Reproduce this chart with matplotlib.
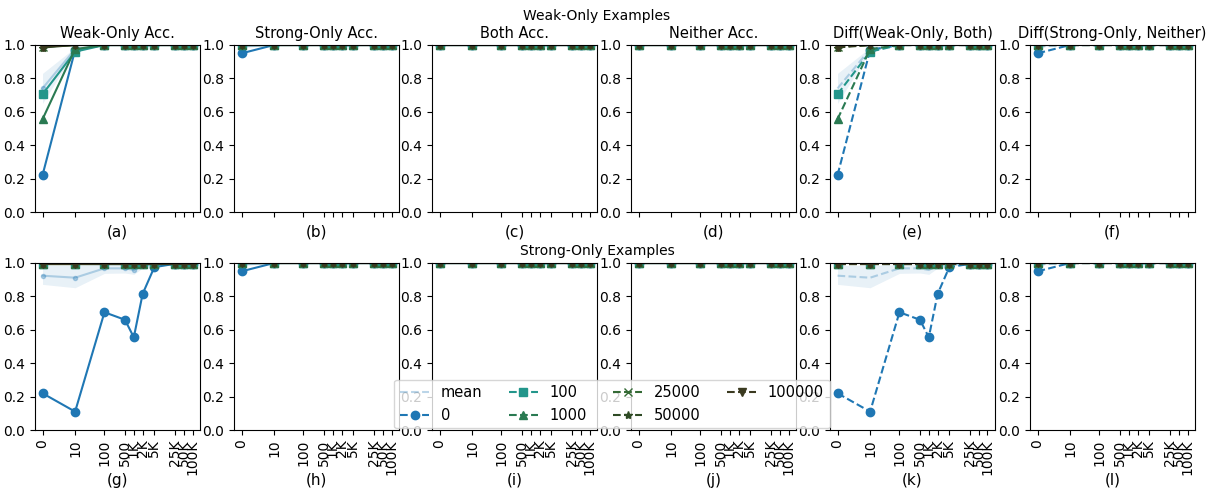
import numpy as np
import matplotlib
matplotlib.use("Agg")
import matplotlib.pyplot as plt

# x positions (number of examples) and tick labels
sizes = [0, 10, 100, 500, 1000, 2000, 5000, 25000, 50000, 100000]
size_labels = ["0", "10", "100", "500", "1K", "2K", "5K", "25K", "50K", "100K"]

series_names = ["0", "100", "1000", "25000", "50000", "100000"]
series_colors = ["#1f77b4", "#23968b", "#2a7a52", "#346a35", "#2e4a24", "#3b3a20"]
series_markers = ["o", "s", "^", "x", "*", "v"]

ones = [1.0] * 10

# weak-only examples, weak-only acc (also diff(weak-only, both))
weak_only_0 = [0.22, 0.97, 1.0, 1.0, 1.0, 1.0, 1.0, 1.0, 1.0, 1.0]
weak_only_100 = [0.705, 0.96, 1.0, 1.0, 1.0, 1.0, 1.0, 1.0, 1.0, 1.0]
weak_only_1000 = [0.555, 0.975, 1.0, 1.0, 1.0, 1.0, 1.0, 1.0, 1.0, 1.0]
weak_only_25000 = [0.99, 1.0, 1.0, 1.0, 1.0, 1.0, 1.0, 1.0, 1.0, 1.0]
weak_only_50000 = [0.985, 1.0, 1.0, 1.0, 1.0, 1.0, 1.0, 1.0, 1.0, 1.0]
weak_only_100000 = [0.99, 1.0, 1.0, 1.0, 1.0, 1.0, 1.0, 1.0, 1.0, 1.0]
weak_only_mean = [0.74, 0.975, 1.0, 1.0, 1.0, 1.0, 1.0, 1.0, 1.0, 1.0]
weak_only_lo = [0.65, 0.965, 1.0, 1.0, 1.0, 1.0, 1.0, 1.0, 1.0, 1.0]
weak_only_hi = [0.83, 0.985, 1.0, 1.0, 1.0, 1.0, 1.0, 1.0, 1.0, 1.0]

# weak-only examples, strong-only acc (also diff(strong-only, neither))
strong_acc_0 = [0.95, 1.0, 1.0, 1.0, 1.0, 1.0, 1.0, 1.0, 1.0, 1.0]
strong_acc_mean = [0.99, 1.0, 1.0, 1.0, 1.0, 1.0, 1.0, 1.0, 1.0, 1.0]

# strong-only examples, weak-only acc (also diff(weak-only, both))
so_weak_0 = [0.22, 0.11, 0.705, 0.66, 0.555, 0.815, 0.975, 0.995, 0.995, 0.995]
so_weak_other = [0.995] * 10
so_weak_mean = [0.924, 0.912, 0.968, 0.968, 0.958, 0.985, 0.99, 0.995, 0.995, 0.995]
so_weak_lo = [0.872, 0.852, 0.938, 0.94, 0.932, 0.97, 0.985, 0.99, 0.99, 0.99]
so_weak_hi = [0.985, 0.985, 0.99, 0.99, 0.985, 0.995, 0.998, 1.0, 1.0, 1.0]

# strong-only examples, strong-only acc
so_strong_0 = [0.95, 1.0, 1.0, 1.0, 1.0, 1.0, 1.0, 1.0, 1.0, 1.0]

top_titles = ["Weak-Only Acc.", "Strong-Only Acc.", "Both Acc.", "Neither Acc.",
              "Diff(Weak-Only, Both)", "Diff(Strong-Only, Neither)"]
letters = "abcdefghijkl"

weak_panel = dict(series=[weak_only_0, weak_only_100, weak_only_1000,
                          weak_only_25000, weak_only_50000, weak_only_100000],
                  mean=weak_only_mean, lo=weak_only_lo, hi=weak_only_hi)
strong_panel = dict(series=[strong_acc_0] + [ones] * 5,
                    mean=strong_acc_mean, lo=strong_acc_mean, hi=ones)
flat_panel = dict(series=[ones] * 6, mean=ones, lo=ones, hi=ones)
so_weak_panel = dict(series=[so_weak_0] + [so_weak_other] * 5,
                     mean=so_weak_mean, lo=so_weak_lo, hi=so_weak_hi)
so_strong_panel = dict(series=[so_strong_0] + [ones] * 5,
                       mean=strong_acc_mean, lo=strong_acc_mean, hi=ones)

rows = [
    [weak_panel, strong_panel, flat_panel, flat_panel, weak_panel, strong_panel],
    [so_weak_panel, so_strong_panel, flat_panel, flat_panel, so_weak_panel, so_strong_panel],
]

W, H = 1211, 491
fig = plt.figure(figsize=(W / 100, H / 100), dpi=100)

lefts = [35, 234, 432, 631, 830, 1030]
ax_w = 165
row_top = [45, 263]
ax_h = 167
label_y = [232, 480]  # pixel rows of the (a)..(l) labels

handles = None
for r in range(2):
    for c in range(6):
        ax = fig.add_axes([lefts[c] / W, 1 - (row_top[r] + ax_h) / H, ax_w / W, ax_h / H])
        p = rows[r][c]
        ls = "--" if c >= 4 else "-"
        ax.fill_between(sizes, p["lo"], p["hi"], color="#1f77b4", alpha=0.1, lw=0)
        if c >= 4:
            ax.plot(sizes, p["mean"], ls="--", color="#1f77b4", alpha=0.3, label="mean")
        else:
            ax.plot(sizes, p["mean"], ls="-", marker=".", color="#1f77b4", alpha=0.3, label="mean")
        for vals, name, col, mk in zip(p["series"], series_names, series_colors, series_markers):
            ax.plot(sizes, vals, ls=ls, color=col, marker=mk, ms=6, label=name)
        ax.set_xscale("symlog", linthresh=10, linscale=1)
        ax.set_xticks(sizes)
        ax.xaxis.set_minor_locator(matplotlib.ticker.NullLocator())
        if r == 0:
            ax.set_xticklabels([])
            ax.set_title(top_titles[c], fontsize=10.5, pad=5)
        else:
            ax.set_xticklabels(size_labels, rotation=90, fontsize=10)
        ax.set_ylim(0, 1)
        ax.set_yticks([0, 0.2, 0.4, 0.6, 0.8, 1.0])
        ax.tick_params(axis="y", labelsize=10)
        ax.set_xlabel("(%s)" % letters[r * 6 + c], fontsize=11)
        ax.xaxis.set_label_coords(0.5, -(label_y[r] - row_top[r] - ax_h) / ax_h)
        ax.xaxis.label.set_va("center")
        if r == 1 and c == 4:
            handles, labels = ax.get_legend_handles_labels()

fig.text(597 / W, 1 - 16 / H, "Weak-Only Examples", ha="center", va="center", fontsize=10)
fig.text(597 / W, 1 - 251 / H, "Strong-Only Examples", ha="center", va="center", fontsize=10)

fig.legend(handles, labels, ncol=4, loc="center", bbox_to_anchor=(612 / W, 1 - 404 / H),
           fontsize=10.5, handlelength=2, columnspacing=1.8)

fig.savefig("out.png", dpi=100)
